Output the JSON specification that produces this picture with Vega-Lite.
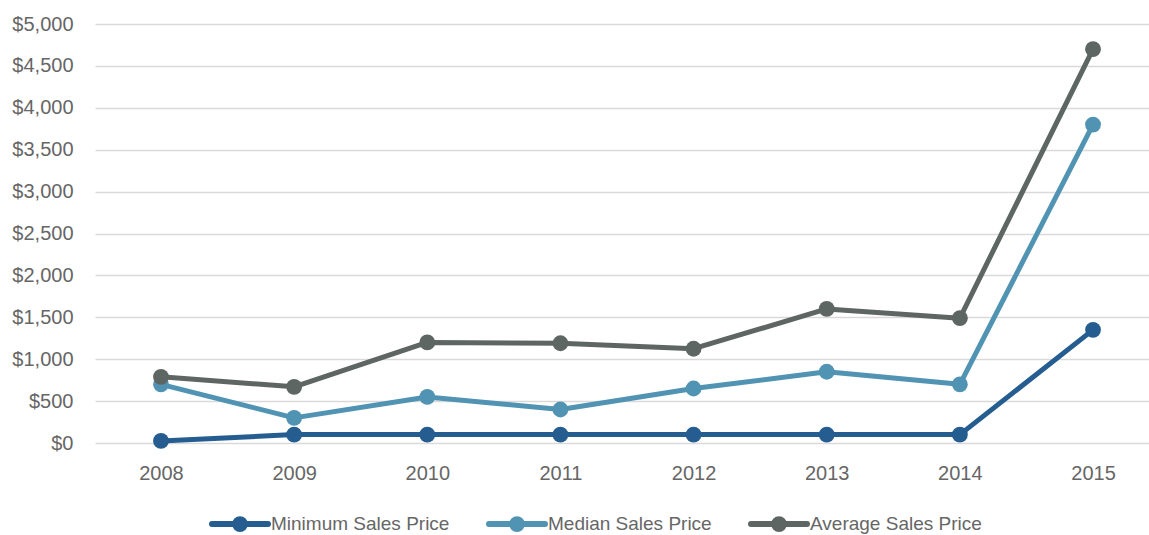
{
  "$schema": "https://vega.github.io/schema/vega-lite/v6.json",
  "width": 1054,
  "height": 419,
  "autosize": "none",
  "padding": {"left": 95, "top": 24, "right": 0, "bottom": 92},
  "background": "white",
  "config": {
    "font": "Liberation Sans",
    "view": {"stroke": null}
  },
  "data": {
    "values": [
      {"year": "2008", "series": "Minimum Sales Price", "value": 25},
      {"year": "2009", "series": "Minimum Sales Price", "value": 100},
      {"year": "2010", "series": "Minimum Sales Price", "value": 100},
      {"year": "2011", "series": "Minimum Sales Price", "value": 100},
      {"year": "2012", "series": "Minimum Sales Price", "value": 100},
      {"year": "2013", "series": "Minimum Sales Price", "value": 100},
      {"year": "2014", "series": "Minimum Sales Price", "value": 100},
      {"year": "2015", "series": "Minimum Sales Price", "value": 1350},
      {"year": "2008", "series": "Median Sales Price", "value": 700},
      {"year": "2009", "series": "Median Sales Price", "value": 300},
      {"year": "2010", "series": "Median Sales Price", "value": 550},
      {"year": "2011", "series": "Median Sales Price", "value": 400},
      {"year": "2012", "series": "Median Sales Price", "value": 650},
      {"year": "2013", "series": "Median Sales Price", "value": 850},
      {"year": "2014", "series": "Median Sales Price", "value": 700},
      {"year": "2015", "series": "Median Sales Price", "value": 3800},
      {"year": "2008", "series": "Average Sales Price", "value": 790},
      {"year": "2009", "series": "Average Sales Price", "value": 670},
      {"year": "2010", "series": "Average Sales Price", "value": 1200},
      {"year": "2011", "series": "Average Sales Price", "value": 1190},
      {"year": "2012", "series": "Average Sales Price", "value": 1125},
      {"year": "2013", "series": "Average Sales Price", "value": 1600},
      {"year": "2014", "series": "Average Sales Price", "value": 1490},
      {"year": "2015", "series": "Average Sales Price", "value": 4700}
    ]
  },
  "encoding": {
    "x": {
      "field": "year",
      "type": "ordinal",
      "scale": {"type": "point", "padding": 0.458, "align": 0.541},
      "axis": {
        "title": null,
        "labelAngle": 0,
        "domain": false,
        "ticks": false,
        "grid": false,
        "labelFont": "Liberation Sans",
        "labelFontSize": 20,
        "labelColor": "#666666",
        "labelPadding": 20
      }
    },
    "y": {
      "field": "value",
      "type": "quantitative",
      "scale": {"domain": [0, 5000], "nice": false},
      "axis": {
        "title": null,
        "values": [0, 500, 1000, 1500, 2000, 2500, 3000, 3500, 4000, 4500, 5000],
        "format": "$,.0f",
        "domain": false,
        "ticks": false,
        "grid": true,
        "gridColor": "#d9d9d9",
        "gridWidth": 1.6,
        "labelFont": "Liberation Sans",
        "labelFontSize": 20,
        "labelColor": "#666666",
        "labelPadding": 22
      }
    },
    "color": {
      "field": "series",
      "type": "nominal",
      "sort": ["Minimum Sales Price", "Median Sales Price", "Average Sales Price"],
      "scale": {
        "domain": ["Minimum Sales Price", "Median Sales Price", "Average Sales Price"],
        "range": ["#255d91", "#5193b3", "#5e6664"]
      },
      "legend": {
        "title": null,
        "orient": "none",
        "direction": "horizontal",
        "legendX": 114,
        "legendY": 469,
        "symbolType": "M-1,0L1,0M-0.175,0A0.175,0.175,0,1,0,0.175,0A0.175,0.175,0,1,0,-0.175,0Z",
        "symbolSize": 3136,
        "symbolStrokeWidth": 6,
        "labelFont": "Liberation Sans",
        "labelFontSize": 19,
        "labelColor": "#666666",
        "labelLimit": 400,
        "labelOffset": 0,
        "columnPadding": 27,
        "encode": {
          "symbols": {
            "update": {
              "fill": {"scale": "color", "field": "value"},
              "stroke": {"scale": "color", "field": "value"},
              "strokeCap": {"value": "round"},
              "opacity": {"value": 1}
            }
          }
        }
      }
    },
    "order": {"field": "year"}
  },
  "layer": [
    {"mark": {"type": "line", "strokeWidth": 5, "strokeCap": "round", "strokeJoin": "round"}},
    {"mark": {"type": "point", "filled": true, "size": 250, "opacity": 1}}
  ]
}
